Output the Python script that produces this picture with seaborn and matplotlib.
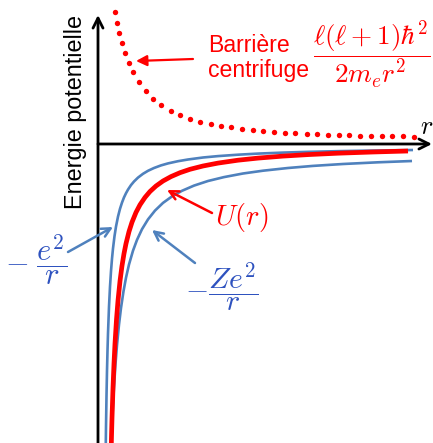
import numpy as np
import pandas as pd
import matplotlib
matplotlib.use("Agg")
import matplotlib.pyplot as plt
import seaborn as sns

# ---- data (arbitrary units: r along x, energy along y) ----
barrier_r = [1.7, 1.9, 2.1, 2.4, 2.7, 3.1, 3.5, 4.1, 4.8, 5.5, 6.3, 7.3, 8.2, 9.2,
             10.2, 11.3, 12.3, 13.3, 14.4, 15.5, 16.5, 17.6, 18.7, 19.7, 20.9,
             21.9, 23.0, 24.1, 25.1, 26.2, 27.3, 28.4, 29.4, 30.5, 31.6]
barrier_E = [13.2, 12.1, 11.1, 10.1, 9.1, 8.1, 7.2, 6.2, 5.3, 4.5, 3.9, 3.3, 2.9, 2.5,
             2.2, 2.0, 1.8, 1.7, 1.5, 1.4, 1.3, 1.2, 1.15, 1.1, 1.0,
             1.0, 0.9, 0.9, 0.9, 0.8, 0.8, 0.8, 0.8, 0.8, 0.7]

# -e^2/r
coul_r = [0.76, 0.8, 0.85, 0.9, 0.95, 1.0, 1.1, 1.2, 1.3, 1.4, 1.5, 1.65, 1.8,
          2.0, 2.2, 2.4, 2.6, 2.8, 3.0, 3.3, 3.6, 4.0, 4.5, 5.0, 5.6, 6.3, 7.0,
          8.0, 9.0, 10.5, 12.0, 14.0, 16.0, 18.5, 21.0, 24.0, 27.5, 31.5]
coul_E = [-31.43, -28.32, -25.20, -22.70, -20.66, -18.96, -16.28, -14.28, -12.72,
          -11.47, -10.45, -9.22, -8.26, -7.26, -6.48, -5.86, -5.34, -4.92, -4.56,
          -4.11, -3.75, -3.36, -2.98, -2.68, -2.40, -2.14, -1.94, -1.72, -1.55,
          -1.35, -1.21, -1.07, -0.96, -0.86, -0.785, -0.716, -0.654, -0.601]

# U(r)
U_r = [1.3, 1.35, 1.4, 1.5, 1.6, 1.7, 1.85, 2.0, 2.2, 2.4, 2.6, 2.8, 3.1, 3.4,
       3.8, 4.2, 4.7, 5.2, 5.8, 6.5, 7.3, 8.2, 9.2, 10.5, 12.0, 14.0, 16.0, 18.5,
       21.0, 24.0, 27.5, 31.0]
U_E = [-31.35, -29.26, -27.43, -24.38, -21.94, -19.94, -17.55, -15.67, -13.71,
       -12.18, -10.96, -9.96, -8.76, -7.82, -6.84, -6.08, -5.34, -4.75, -4.20,
       -3.70, -3.26, -2.87, -2.53, -2.20, -1.91, -1.62, -1.41, -1.21, -1.06,
       -0.92, -0.80, -0.70]

# -Ze^2/r
zcoul_r = [1.27, 1.32, 1.4, 1.5, 1.6, 1.75, 1.9, 2.1, 2.3, 2.55, 2.8, 3.1, 3.5,
           3.9, 4.4, 5.0, 5.7, 6.5, 7.4, 8.4, 9.6, 11.0, 12.6, 14.5, 16.5, 19.0,
           21.5, 24.5, 28.0, 31.4]
zcoul_E = [-31.57, -30.19, -28.22, -26.10, -24.28, -21.99, -20.11, -18.06, -16.40,
           -14.73, -13.37, -12.05, -10.67, -9.59, -8.52, -7.54, -6.66, -5.89,
           -5.24, -4.68, -4.16, -3.70, -3.31, -2.95, -2.67, -2.40, -2.19, -2.00,
           -1.83, -1.70]

ylabel_text = "Energie potentielle"
barrier_lines = ["Barrière", "centrifuge"]
barrier_formula = r"$\dfrac{\ell(\ell+1)\hbar^2}{2m_e r^2}$"
U_label = r"$U(r)$"
coul_label = r"$-\;\dfrac{e^2}{r}$"
zcoul_label = r"$-\dfrac{Ze^2}{r}$"
x_label = r"$r$"

RED = "#ff0000"
BLUE_LINE = "#4f81bd"
BLUE_TEXT = "#2e52bf"

sns.set_theme(style="white")
plt.rcParams["font.family"] = ["Liberation Sans", "DejaVu Sans"]
plt.rcParams["mathtext.fontset"] = "cm"

fig = plt.figure(figsize=(4.33, 4.43), dpi=100)
ax = fig.add_axes([0, 0, 1, 1])
ax.set_xlim(-9.8, 33.5)
ax.set_ylim(-29.9, 14.4)
ax.axis("off")

df_coul = pd.DataFrame({"r": coul_r, "E": coul_E})
df_U = pd.DataFrame({"r": U_r, "E": U_E})
df_z = pd.DataFrame({"r": zcoul_r, "E": zcoul_E})
df_bar = pd.DataFrame({"r": barrier_r, "E": barrier_E})

line_kw = dict(x="r", y="E", sort=False, estimator=None, ax=ax, legend=False)
sns.lineplot(data=df_coul, color=BLUE_LINE, linewidth=1.9, **line_kw)
sns.lineplot(data=df_z, color=BLUE_LINE, linewidth=1.9, **line_kw)
sns.lineplot(data=df_U, color=RED, linewidth=3.4, **line_kw)
for l in ax.lines:
    l.set_solid_joinstyle("round")
    l.set_solid_capstyle("butt")
sns.scatterplot(data=df_bar, x="r", y="E", color=RED, s=15, linewidth=0, ax=ax,
                legend=False)

# axes with arrow heads
ax.annotate("", xy=(0, 12.9), xytext=(0, -31),
            arrowprops=dict(arrowstyle="->", color="black", lw=2.0,
                            mutation_scale=18, shrinkA=0, shrinkB=0))
ax.annotate("", xy=(33.4, 0), xytext=(0, 0),
            arrowprops=dict(arrowstyle="->", color="black", lw=2.0,
                            mutation_scale=18, shrinkA=0, shrinkB=0))

# pointer arrows
ax.annotate("", xy=(3.8, 8.3), xytext=(9.5, 8.5),
            arrowprops=dict(arrowstyle="-|>", color=RED, lw=1.6,
                            mutation_scale=16, shrinkA=0, shrinkB=0))
ax.annotate("", xy=(6.9, -4.6), xytext=(11.4, -6.9),
            arrowprops=dict(arrowstyle="->", color=RED, lw=1.8,
                            mutation_scale=16, shrinkA=0, shrinkB=0))
ax.annotate("", xy=(1.5, -8.3), xytext=(-3.0, -10.8),
            arrowprops=dict(arrowstyle="->", color=BLUE_LINE, lw=1.8,
                            mutation_scale=16, shrinkA=0, shrinkB=0))
ax.annotate("", xy=(5.4, -8.6), xytext=(9.7, -11.9),
            arrowprops=dict(arrowstyle="->", color=BLUE_LINE, lw=1.8,
                            mutation_scale=16, shrinkA=0, shrinkB=0))

# texts
ax.text(-2.3, 3.2, ylabel_text, rotation=90, ha="center", va="center",
        fontsize=16.8, color="black")
ax.text(11.0, 9.2, barrier_lines[0], ha="left", va="baseline", fontsize=16.6,
        color=RED)
ax.text(11.0, 6.7, barrier_lines[1], ha="left", va="baseline", fontsize=16.6,
        color=RED)
ax.text(27.4, 8.9, barrier_formula, ha="center", va="center", fontsize=19.5,
        color=RED)
ax.text(14.4, -7.3, U_label, ha="center", va="center", fontsize=20.5, color=RED)
ax.text(-6.2, -11.6, coul_label, ha="center", va="center", fontsize=22,
        color=BLUE_TEXT)
ax.text(12.4, -14.3, zcoul_label, ha="center", va="center", fontsize=21.5,
        color=BLUE_TEXT)
ax.text(32.9, 1.7, x_label, ha="center", va="center", fontsize=19, color="black")

fig.savefig("out.png", dpi=100, facecolor="white")
